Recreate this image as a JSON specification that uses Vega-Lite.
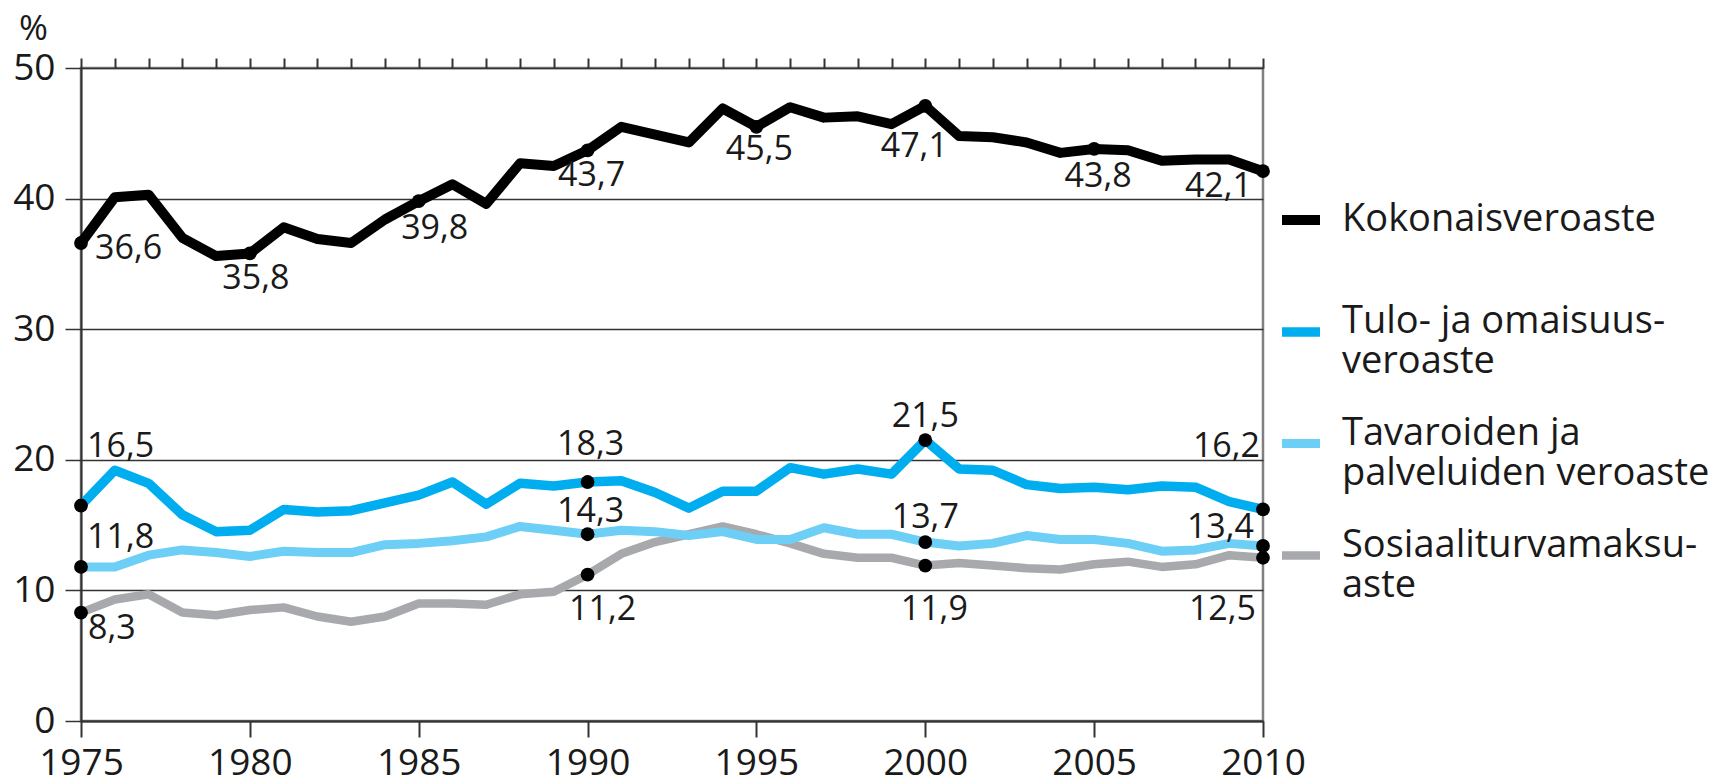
{
  "$schema": "https://vega.github.io/schema/vega-lite/v6.json",
  "width": 1182,
  "height": 653,
  "autosize": {"type": "none"},
  "padding": {"left": 81, "top": 68, "right": 471, "bottom": 63},
  "background": "white",
  "config": {
    "font": "Open Sans",
    "view": {"stroke": "#808080", "strokeWidth": 2.5}
  },
  "datasets": {
    "main": [
      {"year": 1975, "Kokonaisveroaste": 36.6, "Tulo- ja omaisuusveroaste": 16.5, "Tavaroiden ja palveluiden veroaste": 11.8, "Sosiaaliturvamaksuaste": 8.3},
      {"year": 1976, "Kokonaisveroaste": 40.1, "Tulo- ja omaisuusveroaste": 19.2, "Tavaroiden ja palveluiden veroaste": 11.8, "Sosiaaliturvamaksuaste": 9.3},
      {"year": 1977, "Kokonaisveroaste": 40.3, "Tulo- ja omaisuusveroaste": 18.2, "Tavaroiden ja palveluiden veroaste": 12.7, "Sosiaaliturvamaksuaste": 9.7},
      {"year": 1978, "Kokonaisveroaste": 37.0, "Tulo- ja omaisuusveroaste": 15.8, "Tavaroiden ja palveluiden veroaste": 13.1, "Sosiaaliturvamaksuaste": 8.3},
      {"year": 1979, "Kokonaisveroaste": 35.6, "Tulo- ja omaisuusveroaste": 14.5, "Tavaroiden ja palveluiden veroaste": 12.9, "Sosiaaliturvamaksuaste": 8.1},
      {"year": 1980, "Kokonaisveroaste": 35.8, "Tulo- ja omaisuusveroaste": 14.6, "Tavaroiden ja palveluiden veroaste": 12.6, "Sosiaaliturvamaksuaste": 8.5},
      {"year": 1981, "Kokonaisveroaste": 37.8, "Tulo- ja omaisuusveroaste": 16.2, "Tavaroiden ja palveluiden veroaste": 13.0, "Sosiaaliturvamaksuaste": 8.7},
      {"year": 1982, "Kokonaisveroaste": 36.9, "Tulo- ja omaisuusveroaste": 16.0, "Tavaroiden ja palveluiden veroaste": 12.9, "Sosiaaliturvamaksuaste": 8.0},
      {"year": 1983, "Kokonaisveroaste": 36.6, "Tulo- ja omaisuusveroaste": 16.1, "Tavaroiden ja palveluiden veroaste": 12.9, "Sosiaaliturvamaksuaste": 7.6},
      {"year": 1984, "Kokonaisveroaste": 38.4, "Tulo- ja omaisuusveroaste": 16.7, "Tavaroiden ja palveluiden veroaste": 13.5, "Sosiaaliturvamaksuaste": 8.0},
      {"year": 1985, "Kokonaisveroaste": 39.8, "Tulo- ja omaisuusveroaste": 17.3, "Tavaroiden ja palveluiden veroaste": 13.6, "Sosiaaliturvamaksuaste": 9.0},
      {"year": 1986, "Kokonaisveroaste": 41.1, "Tulo- ja omaisuusveroaste": 18.3, "Tavaroiden ja palveluiden veroaste": 13.8, "Sosiaaliturvamaksuaste": 9.0},
      {"year": 1987, "Kokonaisveroaste": 39.6, "Tulo- ja omaisuusveroaste": 16.6, "Tavaroiden ja palveluiden veroaste": 14.1, "Sosiaaliturvamaksuaste": 8.9},
      {"year": 1988, "Kokonaisveroaste": 42.7, "Tulo- ja omaisuusveroaste": 18.2, "Tavaroiden ja palveluiden veroaste": 14.9, "Sosiaaliturvamaksuaste": 9.7},
      {"year": 1989, "Kokonaisveroaste": 42.5, "Tulo- ja omaisuusveroaste": 18.0, "Tavaroiden ja palveluiden veroaste": 14.6, "Sosiaaliturvamaksuaste": 9.9},
      {"year": 1990, "Kokonaisveroaste": 43.7, "Tulo- ja omaisuusveroaste": 18.3, "Tavaroiden ja palveluiden veroaste": 14.3, "Sosiaaliturvamaksuaste": 11.2},
      {"year": 1991, "Kokonaisveroaste": 45.5, "Tulo- ja omaisuusveroaste": 18.4, "Tavaroiden ja palveluiden veroaste": 14.6, "Sosiaaliturvamaksuaste": 12.8},
      {"year": 1992, "Kokonaisveroaste": 44.9, "Tulo- ja omaisuusveroaste": 17.5, "Tavaroiden ja palveluiden veroaste": 14.5, "Sosiaaliturvamaksuaste": 13.7},
      {"year": 1993, "Kokonaisveroaste": 44.3, "Tulo- ja omaisuusveroaste": 16.3, "Tavaroiden ja palveluiden veroaste": 14.2, "Sosiaaliturvamaksuaste": 14.3},
      {"year": 1994, "Kokonaisveroaste": 46.9, "Tulo- ja omaisuusveroaste": 17.6, "Tavaroiden ja palveluiden veroaste": 14.5, "Sosiaaliturvamaksuaste": 14.9},
      {"year": 1995, "Kokonaisveroaste": 45.5, "Tulo- ja omaisuusveroaste": 17.6, "Tavaroiden ja palveluiden veroaste": 13.9, "Sosiaaliturvamaksuaste": 14.3},
      {"year": 1996, "Kokonaisveroaste": 47.0, "Tulo- ja omaisuusveroaste": 19.4, "Tavaroiden ja palveluiden veroaste": 13.9, "Sosiaaliturvamaksuaste": 13.6},
      {"year": 1997, "Kokonaisveroaste": 46.2, "Tulo- ja omaisuusveroaste": 18.9, "Tavaroiden ja palveluiden veroaste": 14.8, "Sosiaaliturvamaksuaste": 12.8},
      {"year": 1998, "Kokonaisveroaste": 46.3, "Tulo- ja omaisuusveroaste": 19.3, "Tavaroiden ja palveluiden veroaste": 14.3, "Sosiaaliturvamaksuaste": 12.5},
      {"year": 1999, "Kokonaisveroaste": 45.7, "Tulo- ja omaisuusveroaste": 18.9, "Tavaroiden ja palveluiden veroaste": 14.3, "Sosiaaliturvamaksuaste": 12.5},
      {"year": 2000, "Kokonaisveroaste": 47.1, "Tulo- ja omaisuusveroaste": 21.5, "Tavaroiden ja palveluiden veroaste": 13.7, "Sosiaaliturvamaksuaste": 11.9},
      {"year": 2001, "Kokonaisveroaste": 44.8, "Tulo- ja omaisuusveroaste": 19.3, "Tavaroiden ja palveluiden veroaste": 13.4, "Sosiaaliturvamaksuaste": 12.1},
      {"year": 2002, "Kokonaisveroaste": 44.7, "Tulo- ja omaisuusveroaste": 19.2, "Tavaroiden ja palveluiden veroaste": 13.6, "Sosiaaliturvamaksuaste": 11.9},
      {"year": 2003, "Kokonaisveroaste": 44.3, "Tulo- ja omaisuusveroaste": 18.1, "Tavaroiden ja palveluiden veroaste": 14.2, "Sosiaaliturvamaksuaste": 11.7},
      {"year": 2004, "Kokonaisveroaste": 43.5, "Tulo- ja omaisuusveroaste": 17.8, "Tavaroiden ja palveluiden veroaste": 13.9, "Sosiaaliturvamaksuaste": 11.6},
      {"year": 2005, "Kokonaisveroaste": 43.8, "Tulo- ja omaisuusveroaste": 17.9, "Tavaroiden ja palveluiden veroaste": 13.9, "Sosiaaliturvamaksuaste": 12.0},
      {"year": 2006, "Kokonaisveroaste": 43.7, "Tulo- ja omaisuusveroaste": 17.7, "Tavaroiden ja palveluiden veroaste": 13.6, "Sosiaaliturvamaksuaste": 12.2},
      {"year": 2007, "Kokonaisveroaste": 42.9, "Tulo- ja omaisuusveroaste": 18.0, "Tavaroiden ja palveluiden veroaste": 13.0, "Sosiaaliturvamaksuaste": 11.8},
      {"year": 2008, "Kokonaisveroaste": 43.0, "Tulo- ja omaisuusveroaste": 17.9, "Tavaroiden ja palveluiden veroaste": 13.1, "Sosiaaliturvamaksuaste": 12.0},
      {"year": 2009, "Kokonaisveroaste": 43.0, "Tulo- ja omaisuusveroaste": 16.8, "Tavaroiden ja palveluiden veroaste": 13.6, "Sosiaaliturvamaksuaste": 12.7},
      {"year": 2010, "Kokonaisveroaste": 42.1, "Tulo- ja omaisuusveroaste": 16.2, "Tavaroiden ja palveluiden veroaste": 13.4, "Sosiaaliturvamaksuaste": 12.5}
    ],
    "pts": [
      {"series": "Kokonaisveroaste", "year": 1975, "value": 36.6, "label": "36,6"},
      {"series": "Kokonaisveroaste", "year": 1980, "value": 35.8, "label": "35,8"},
      {"series": "Kokonaisveroaste", "year": 1985, "value": 39.8, "label": "39,8"},
      {"series": "Kokonaisveroaste", "year": 1990, "value": 43.7, "label": "43,7"},
      {"series": "Kokonaisveroaste", "year": 1995, "value": 45.5, "label": "45,5"},
      {"series": "Kokonaisveroaste", "year": 2000, "value": 47.1, "label": "47,1"},
      {"series": "Kokonaisveroaste", "year": 2005, "value": 43.8, "label": "43,8"},
      {"series": "Kokonaisveroaste", "year": 2010, "value": 42.1, "label": "42,1"},
      {"series": "Tulo- ja omaisuusveroaste", "year": 1975, "value": 16.5, "label": "16,5"},
      {"series": "Tulo- ja omaisuusveroaste", "year": 1990, "value": 18.3, "label": "18,3"},
      {"series": "Tulo- ja omaisuusveroaste", "year": 2000, "value": 21.5, "label": "21,5"},
      {"series": "Tulo- ja omaisuusveroaste", "year": 2010, "value": 16.2, "label": "16,2"},
      {"series": "Tavaroiden ja palveluiden veroaste", "year": 1975, "value": 11.8, "label": "11,8"},
      {"series": "Tavaroiden ja palveluiden veroaste", "year": 1990, "value": 14.3, "label": "14,3"},
      {"series": "Tavaroiden ja palveluiden veroaste", "year": 2000, "value": 13.7, "label": "13,7"},
      {"series": "Tavaroiden ja palveluiden veroaste", "year": 2010, "value": 13.4, "label": "13,4"},
      {"series": "Sosiaaliturvamaksuaste", "year": 1975, "value": 8.3, "label": "8,3"},
      {"series": "Sosiaaliturvamaksuaste", "year": 1990, "value": 11.2, "label": "11,2"},
      {"series": "Sosiaaliturvamaksuaste", "year": 2000, "value": 11.9, "label": "11,9"},
      {"series": "Sosiaaliturvamaksuaste", "year": 2010, "value": 12.5, "label": "12,5"}
    ]
  },
  "layer": [
    {
      "data": {"name": "main"},
      "transform": [
        {"fold": ["Sosiaaliturvamaksuaste", "Tavaroiden ja palveluiden veroaste", "Tulo- ja omaisuusveroaste", "Kokonaisveroaste"], "as": ["series", "value"]}
      ],
      "mark": {"type": "line", "strokeJoin": "round", "strokeCap": "butt"},
      "encoding": {
        "x": {
          "field": "year", "type": "quantitative",
          "scale": {"domain": [1975, 2010], "nice": false, "zero": false},
          "axis": {
            "values": [1975, 1980, 1985, 1990, 1995, 2000, 2005, 2010],
            "format": "d", "title": null, "grid": false,
            "domain": true, "domainColor": "#333333", "domainWidth": 2,
            "ticks": true, "tickSize": 16, "tickWidth": 2, "tickColor": "#333333",
            "labelFontSize": 37, "labelFont": "Open Sans", "labelColor": "#1a1a1a",
            "labelPadding": 8, "labelFlush": false, "labelOverlap": false
          }
        },
        "y": {
          "field": "value", "type": "quantitative",
          "scale": {"domain": [0, 50], "nice": false},
          "axis": {
            "values": [0, 10, 20, 30, 40, 50],
            "grid": true, "gridColor": "#333333", "gridWidth": 1.5,
            "domain": true, "domainColor": "#333333", "domainWidth": 2,
            "ticks": true, "tickSize": 16, "tickWidth": 1.5, "tickColor": "#333333",
            "labelFontSize": 37, "labelFont": "Open Sans", "labelColor": "#1a1a1a",
            "labelPadding": 10, "labelFlush": false,
            "title": "%", "titleAngle": 0, "titleX": -48, "titleY": -40,
            "titleAlign": "center", "titleBaseline": "middle",
            "titleFontSize": 35, "titleFontWeight": "normal", "titleFont": "Open Sans", "titleColor": "#1a1a1a"
          }
        },
        "color": {
          "field": "series", "type": "nominal",
          "scale": {
            "domain": ["Kokonaisveroaste", "Tulo- ja omaisuusveroaste", "Tavaroiden ja palveluiden veroaste", "Sosiaaliturvamaksuaste"],
            "range": ["#000000", "#00aeef", "#6dcff6", "#a7a9ac"]
          },
          "legend": {
            "orient": "none", "legendX": 1196, "legendY": 128,
            "title": null, "padding": 0, "gridAlign": "all",
            "symbolType": "stroke", "symbolStrokeWidth": 11, "symbolSize": 1444,
            "labelFontSize": 38, "labelFont": "Open Sans", "labelColor": "#1a1a1a",
            "labelLimit": 0, "labelOffset": 17, "rowPadding": 33, "labelBaseline": "middle",
            "labelExpr": "datum.label == 'Tulo- ja omaisuusveroaste' ? ['Tulo- ja omaisuus-', 'veroaste'] : datum.label == 'Tavaroiden ja palveluiden veroaste' ? ['Tavaroiden ja', 'palveluiden veroaste'] : datum.label == 'Sosiaaliturvamaksuaste' ? ['Sosiaaliturvamaksu-', 'aste'] : datum.label",
            "encode": {
              "labels": {"update": {"dy": {"signal": "datum.label == 'Kokonaisveroaste' ? 0 : -10"}}}
            }
          }
        },
        "strokeWidth": {
          "field": "series", "type": "nominal",
          "scale": {
            "domain": ["Kokonaisveroaste", "Tulo- ja omaisuusveroaste", "Tavaroiden ja palveluiden veroaste", "Sosiaaliturvamaksuaste"],
            "range": [10, 8.5, 8.5, 8.5]
          },
          "legend": null
        }
      }
    },
    {
      "data": {"name": "pts"},
      "mark": {"type": "point", "filled": true, "color": "#000000", "opacity": 1, "size": 190, "shape": "circle"},
      "encoding": {
        "x": {
          "field": "year", "type": "quantitative",
          "axis": {
            "values": [1975, 1976, 1977, 1978, 1979, 1980, 1981, 1982, 1983, 1984, 1985, 1986, 1987, 1988, 1989, 1990, 1991, 1992, 1993, 1994, 1995, 1996, 1997, 1998, 1999, 2000, 2001, 2002, 2003, 2004, 2005, 2006, 2007, 2008, 2009, 2010],
            "labels": false, "title": null, "grid": false, "domain": false,
            "ticks": true, "tickSize": 10, "tickWidth": 2, "tickColor": "#333333"
          }
        },
        "y": {"field": "value", "type": "quantitative"}
      }
    },
    {
      "data": {"name": "pts"},
      "transform": [{"filter": "datum.series == 'Kokonaisveroaste'"}],
      "mark": {
        "type": "text", "font": "Open Sans", "fontSize": 34, "color": "#1a1a1a", "baseline": "middle",
        "align": {"expr": "datum.year == 1975 ? 'left' : datum.year == 2010 ? 'right' : 'center'"},
        "dx": {"expr": "datum.year == 1975 ? 14 : datum.year == 1980 ? 6 : datum.year == 1985 ? 16 : datum.year == 1990 ? 4 : datum.year == 1995 ? 3 : datum.year == 2000 ? -11 : datum.year == 2005 ? 4 : -11"},
        "dy": {"expr": "datum.year == 1975 ? 6 : datum.year == 1980 ? 26 : datum.year == 1985 ? 28 : datum.year == 1990 ? 26 : datum.year == 1995 ? 23 : datum.year == 2000 ? 41 : datum.year == 2005 ? 28 : 16"}
      },
      "encoding": {
        "x": {"field": "year", "type": "quantitative", "axis": null},
        "y": {"field": "value", "type": "quantitative"},
        "text": {"field": "label"}
      }
    },
    {
      "data": {"name": "pts"},
      "transform": [{"filter": "datum.series == 'Tulo- ja omaisuusveroaste'"}],
      "mark": {
        "type": "text", "font": "Open Sans", "fontSize": 34, "color": "#1a1a1a", "baseline": "middle",
        "align": {"expr": "datum.year == 1975 ? 'left' : datum.year == 2010 ? 'right' : 'center'"},
        "dx": {"expr": "datum.year == 1975 ? 6 : datum.year == 1990 ? 3 : datum.year == 2000 ? 0 : -3"},
        "dy": {"expr": "datum.year == 1975 ? -59 : datum.year == 1990 ? -37 : datum.year == 2000 ? -23 : -62"}
      },
      "encoding": {
        "x": {"field": "year", "type": "quantitative", "axis": null},
        "y": {"field": "value", "type": "quantitative"},
        "text": {"field": "label"}
      }
    },
    {
      "data": {"name": "pts"},
      "transform": [{"filter": "datum.series == 'Tavaroiden ja palveluiden veroaste'"}],
      "mark": {
        "type": "text", "font": "Open Sans", "fontSize": 34, "color": "#1a1a1a", "baseline": "middle",
        "align": {"expr": "datum.year == 1975 ? 'left' : datum.year == 2010 ? 'right' : 'center'"},
        "dx": {"expr": "datum.year == 1975 ? 6 : datum.year == 1990 ? 3 : datum.year == 2000 ? 0 : -9"},
        "dy": {"expr": "datum.year == 1975 ? -29 : datum.year == 1990 ? -22 : datum.year == 2000 ? -24 : -18"}
      },
      "encoding": {
        "x": {"field": "year", "type": "quantitative", "axis": null},
        "y": {"field": "value", "type": "quantitative"},
        "text": {"field": "label"}
      }
    },
    {
      "data": {"name": "pts"},
      "transform": [{"filter": "datum.series == 'Sosiaaliturvamaksuaste'"}],
      "mark": {
        "type": "text", "font": "Open Sans", "fontSize": 34, "color": "#1a1a1a", "baseline": "middle",
        "align": {"expr": "datum.year == 1975 ? 'left' : datum.year == 2010 ? 'right' : 'center'"},
        "dx": {"expr": "datum.year == 1975 ? 7 : datum.year == 1990 ? 15 : datum.year == 2000 ? 9 : -7"},
        "dy": {"expr": "datum.year == 1975 ? 16 : datum.year == 1990 ? 35 : datum.year == 2000 ? 44 : 52"}
      },
      "encoding": {
        "x": {"field": "year", "type": "quantitative", "axis": null},
        "y": {"field": "value", "type": "quantitative"},
        "text": {"field": "label"}
      }
    }
  ],
  "resolve": {"axis": {"x": "independent"}}
}
